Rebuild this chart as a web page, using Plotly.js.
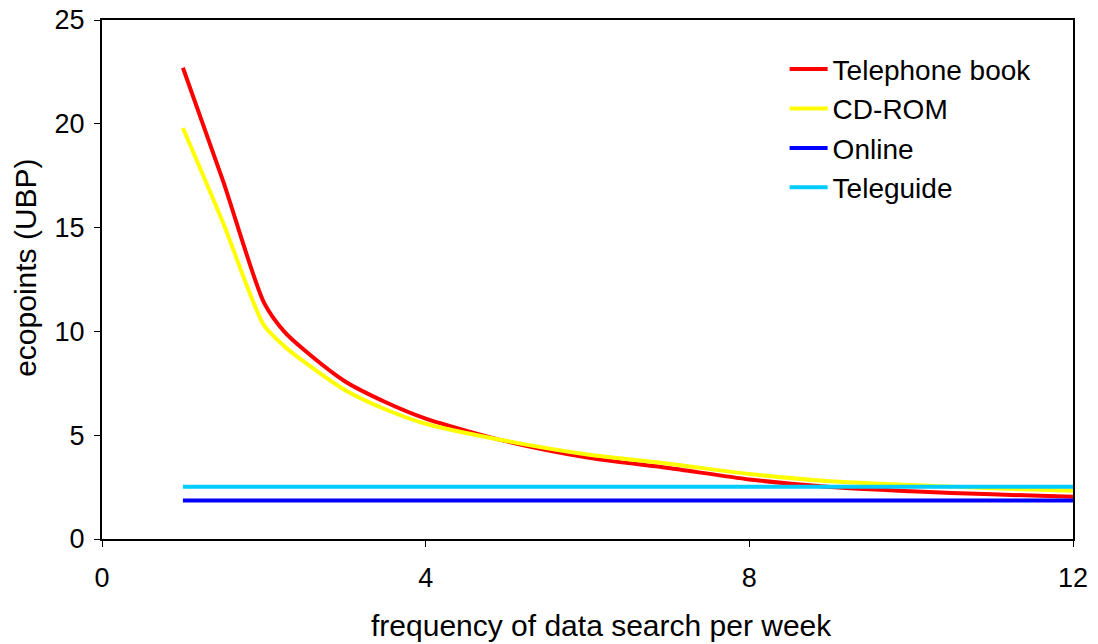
<!DOCTYPE html>
<html>
<head>
<meta charset="utf-8">
<script src="https://cdn.plot.ly/plotly-3.0.1.min.js"></script>
<style>html,body{margin:0;padding:0;background:#fff;}#chart{width:1098px;height:644px;}</style>
</head>
<body>
<div id="chart"></div>
<script>
const freq = [1, 1.5, 2, 2.25, 2.5, 3, 3.5, 4, 5, 6, 7, 8, 9, 10, 11, 12];
const telephoneBook = [22.7, 17.2, 11.4, 10.0, 9.1, 7.6, 6.6, 5.8, 4.7, 3.92, 3.42, 2.87, 2.5, 2.3, 2.15, 2.03];
const cdRom = [19.8, 15.2, 10.3, 9.3, 8.53, 7.18, 6.25, 5.55, 4.72, 4.07, 3.63, 3.13, 2.78, 2.6, 2.45, 2.32];
const flatX = [1, 12];
const online = [1.86, 1.86];
const teleguide = [2.52, 2.52];
const xTicks = [0, 4, 8, 12];
const yTicks = [0, 5, 10, 15, 20, 25];
const xTitle = 'frequency of data search per week';
const yTitle = 'ecopoints (UBP)';

const fam = 'Liberation Sans, Arial, sans-serif';
const tickFont = {family: fam, size: 27, color: '#000'};
const legendFont = {family: fam, size: 28, color: '#000'};
const titleFont = {family: fam, size: 30, color: '#000'};

const traces = [
  {x: freq, y: telephoneBook, name: 'Telephone book', mode: 'lines', line: {color: '#FF0000', width: 4, shape: 'spline', smoothing: 0.7}, legendgroup: 'a'},
  {x: freq, y: cdRom, name: 'CD-ROM', mode: 'lines', line: {color: '#FFFF00', width: 4, shape: 'spline', smoothing: 0.7}, legendgroup: 'b'},
  {x: flatX, y: online, name: 'Online', mode: 'lines', line: {color: '#0000FF', width: 4}, legendgroup: 'c'},
  {x: flatX, y: teleguide, name: 'Teleguide', mode: 'lines', line: {color: '#00CCFF', width: 4}, legendgroup: 'd'}
];

const layout = {
  width: 1098, height: 644,
  margin: {l: 102, r: 25, t: 20, b: 105},
  paper_bgcolor: '#fff', plot_bgcolor: '#fff',
  font: tickFont,
  showlegend: true,
  legend: {x: 0.703, y: 0.953, xanchor: 'left', yanchor: 'top', font: legendFont, bgcolor: 'rgba(0,0,0,0)', tracegroupgap: 0, traceorder: 'grouped', itemwidth: 38},
  xaxis: {
    range: [0, 12], tickvals: xTicks, ticktext: xTicks.map(String),
    showgrid: false, zeroline: false, showline: true, linecolor: '#000', linewidth: 2, mirror: true,
    ticks: 'outside', ticklen: 6, tickcolor: '#000', tickwidth: 1,
    ticklabelstandoff: 8,
    tickfont: tickFont
  },
  yaxis: {
    range: [0, 25], tickvals: yTicks, ticktext: yTicks.map(String),
    showgrid: false, zeroline: false, showline: true, linecolor: '#000', linewidth: 2, mirror: true,
    ticks: 'outside', ticklen: 6, tickcolor: '#000', tickwidth: 1,
    ticklabelstandoff: 4,
    tickfont: tickFont
  },
  annotations: [
    {text: xTitle, xref: 'paper', yref: 'paper', x: 0.514, y: -0.166, xanchor: 'center', yanchor: 'middle', showarrow: false, font: titleFont},
    {text: yTitle, xref: 'paper', yref: 'paper', x: -0.079, y: 0.523, xanchor: 'center', yanchor: 'middle', textangle: -90, showarrow: false, font: titleFont}
  ]
};

Plotly.newPlot('chart', traces, layout, {displayModeBar: false, staticPlot: true});
</script>
</body>
</html>
